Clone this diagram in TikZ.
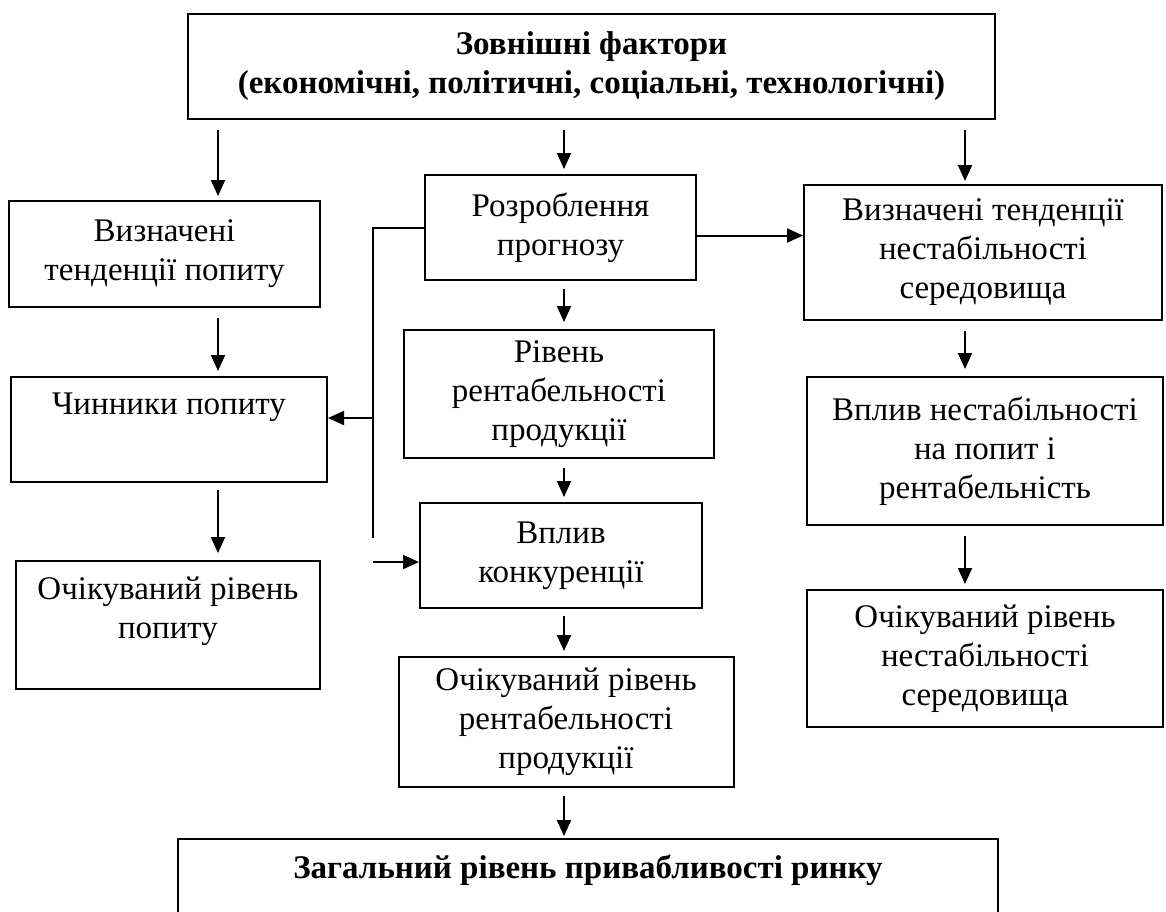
\documentclass[tikz,border=0pt]{standalone}
\usepackage{fontspec}
\setmainfont{Liberation Serif}
\usetikzlibrary{arrows.meta,calc,positioning}
\tikzset{
  block/.style={draw, line width=1pt, align=center, inner sep=0pt,
    font=\fontsize{16.5}{19.5}\selectfont},
  boldblock/.style={block, font=\fontsize{16.5}{19.5}\selectfont\bfseries},
  arr/.style={-{Triangle[length=8pt,width=7pt]}, line width=1pt},
}

\begin{document}
\begin{tikzpicture}[x=0.5pt,y=-0.5pt]
    \useasboundingbox (0,0) rectangle (1166,911);
    \clip (0,0) rectangle (1166,911);

    % columns of the down arrows
    \coordinate (colL) at (218,0);
    \coordinate (colM) at (564,0);
    \coordinate (colR) at (965,0);
    % forecast bus on the left
    \coordinate (busEnd) at (373,538);
    \coordinate (busMid) at (373,418);
    \coordinate (busLow) at (373,562);

    \node[boldblock, minimum width=403.5pt, minimum height=52.5pt] (top) at (591.5,66.5)
      {Зовнішні фактори\\(економічні, політичні, соціальні, технологічні)};

    % left column
    \node[block, minimum width=155.5pt, minimum height=53pt] (demTrend) at (164.5,254)
      {Визначені\\тенденції попиту};
    \node[block, minimum width=158pt, minimum height=52.5pt] (demFactors) at (169,429.5)
      {Чинники попиту\\\strut};
    \node[block, minimum width=152pt, minimum height=64pt] (demExpected) at (168,625)
      {Очікуваний рівень\\попиту\\[-8pt]\strut};

    % middle column
    \node[block, minimum width=135.5pt, minimum height=52.5pt] (forecast) at (560.5,227.5)
      {Розроблення\\прогнозу};
    \node[block, minimum width=155pt, minimum height=64pt] (profit) at (559,394)
      {Рівень\\рентабельності\\продукції};
    \node[block, minimum width=141pt, minimum height=52.5pt] (competition) at (561,555.5)
      {Вплив\\конкуренції};
    \node[block, minimum width=167.5pt, minimum height=65pt] (profitExp) at (566,722)
      {Очікуваний рівень\\рентабельності\\продукції};
    \node[boldblock, anchor=north, minimum width=410pt, inner ysep=7.5pt,
      text height=12pt, text depth=50pt] (total) at (588,838)
      {Загальний рівень привабливості ринку};

    % right column
    \node[block, minimum width=179pt, minimum height=67.5pt] (instTrend) at (983,252.5)
      {Визначені тенденції\\нестабільності\\середовища};
    \node[block, minimum width=178pt, minimum height=74pt] (instImpact) at (985,451)
      {Вплив нестабільності\\на попит і\\рентабельність};
    \node[block, minimum width=178pt, minimum height=68.5pt] (instExpected) at (985,658.5)
      {Очікуваний рівень\\нестабільності\\середовища};

    % down arrows
    \draw[arr, shorten <=5pt, shorten >=2pt] (top.south -| colL) -- (demTrend.north -| colL);
    \draw[arr, shorten <=5pt, shorten >=2.5pt] (top.south -| colM) -- (forecast.north -| colM);
    \draw[arr, shorten <=5pt, shorten >=1.5pt] (top.south -| colR) -- (instTrend.north -| colR);
    \draw[arr, shorten <=5pt, shorten >=2.5pt] (demTrend.south -| colL) -- (demFactors.north -| colL);
    \draw[arr, shorten <=3.5pt, shorten >=3.5pt] (demFactors.south -| colL) -- (demExpected.north -| colL);
    \draw[arr, shorten <=4pt, shorten >=3.5pt] (forecast.south -| colM) -- (profit.north -| colM);
    \draw[arr, shorten <=4.5pt, shorten >=2.5pt] (profit.south -| colM) -- (competition.north -| colM);
    \draw[arr, shorten <=3.5pt, shorten >=2.5pt] (competition.south -| colM) -- (profitExp.north -| colM);
    \draw[arr, shorten <=4pt, shorten >=1pt] (profitExp.south -| colM) -- (total.north -| colM);
    \draw[arr, shorten <=5pt, shorten >=3.5pt] (instTrend.south -| colR) -- (instImpact.north -| colR);
    \draw[arr, shorten <=5pt, shorten >=2.5pt] (instImpact.south -| colR) -- (instExpected.north -| colR);

    % forecast links
    \draw[arr] ([yshift=-4pt]forecast.east) -- ([yshift=-4pt]forecast.east -| instTrend.west);
    \draw[line width=1pt] (forecast.west) -| (busEnd);
    \draw[arr] (busMid) -- (busMid -| demFactors.east);
    \draw[arr] (busLow) -- (busLow -| competition.west);
\end{tikzpicture}
\end{document}
